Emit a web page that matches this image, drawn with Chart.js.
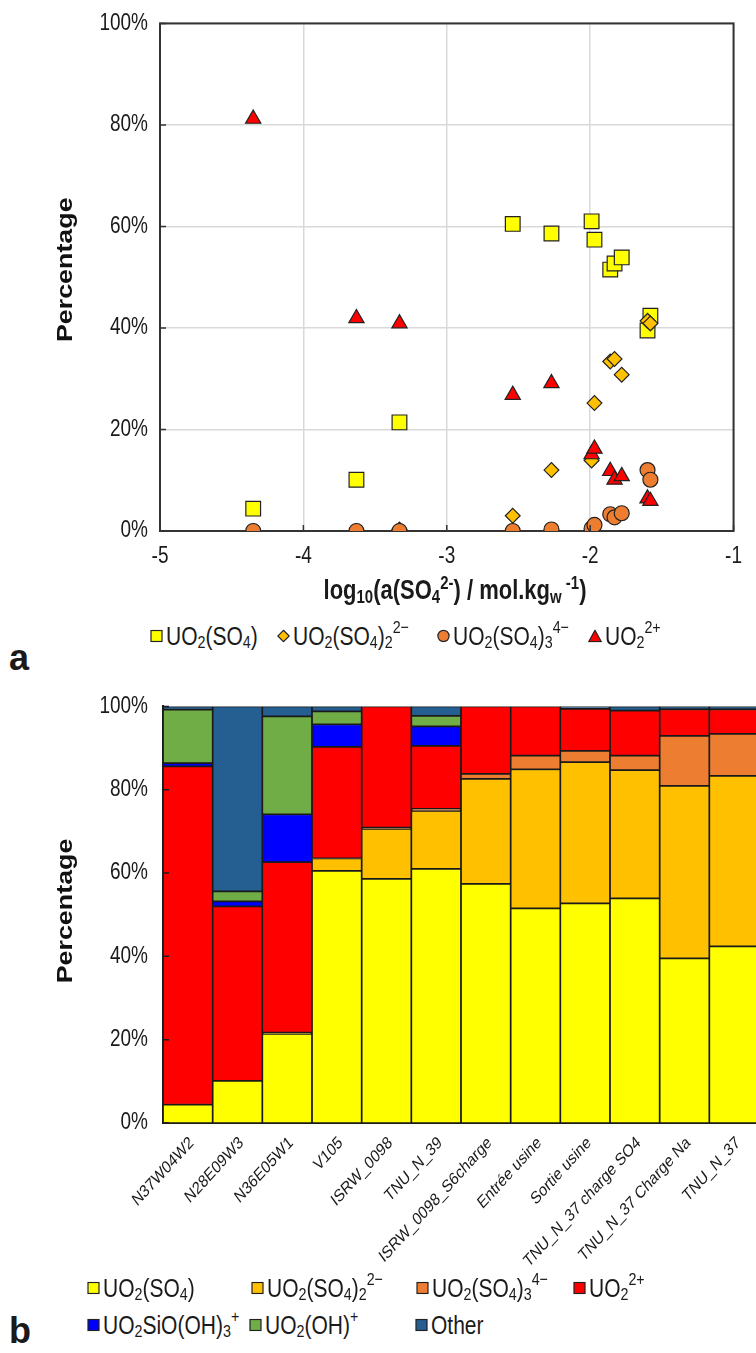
<!DOCTYPE html>
<html>
<head>
<meta charset="utf-8">
<script src="https://cdn.jsdelivr.net/npm/chart.js@4.4.1/dist/chart.umd.min.js"></script>
<style>
html,body{margin:0;padding:0;background:#fff;overflow:hidden;width:756px;height:1353px;}
body{position:relative;font-family:"Liberation Sans",Arial,sans-serif;color:#1a1a1a;}
canvas{position:absolute;left:0;}
#c1{top:0;}
#c2{top:680px;}
.item{position:absolute;display:flex;align-items:center;font-size:21px;line-height:1;white-space:nowrap;transform:translateY(-50%) scaleY(1.22);}
.item svg{margin-right:3px;flex:none;transform:scaleY(0.82);}
sub,sup{font-size:0.68em;line-height:0;position:relative;vertical-align:baseline;}
sub{top:0.3em;}
sup{top:-0.55em;}
#xt{position:absolute;left:0;width:910px;text-align:center;font-weight:bold;font-size:22px;line-height:22px;top:579px;transform:scaleY(1.22);}
.panel{position:absolute;left:9px;font-weight:bold;font-size:36px;line-height:36px;}
</style>
</head>
<body>
<canvas id="c1" width="756" height="620"></canvas>
<canvas id="c2" width="762" height="600"></canvas>

<div id="xt">log<sub>10</sub>(a(SO<sub>4</sub><sup>2-</sup>) / mol.kg<sub>w</sub><sup>&nbsp;-1</sup>)</div>

<!-- legend a -->
<div class="item" style="left:150px;top:636px"><svg width="13" height="13"><rect x="1" y="1" width="11" height="11" fill="#FFFF00" stroke="#222" stroke-width="1.2"/></svg>UO<sub>2</sub>(SO<sub>4</sub>)</div>
<div class="item" style="left:277px;top:636px"><svg width="13" height="13"><polygon points="6.5,0.8 12.2,6.5 6.5,12.2 0.8,6.5" fill="#FFC000" stroke="#222" stroke-width="1.2"/></svg>UO<sub>2</sub>(SO<sub>4</sub>)<sub>2</sub><sup>2−</sup></div>
<div class="item" style="left:437px;top:636px"><svg width="13" height="13"><circle cx="6.5" cy="6.5" r="5.6" fill="#ED7D31" stroke="#222" stroke-width="1.2"/></svg>UO<sub>2</sub>(SO<sub>4</sub>)<sub>3</sub><sup>4−</sup></div>
<div class="item" style="left:588px;top:636px"><svg width="14" height="13"><polygon points="7,0.8 13.3,12.2 0.7,12.2" fill="#FF0000" stroke="#222" stroke-width="1.2"/></svg>UO<sub>2</sub><sup>2+</sup></div>
<div class="panel" style="top:640px">a</div>

<!-- legend b -->
<div class="item" style="left:87px;top:1288px"><svg width="13" height="13"><rect x="1" y="1" width="11" height="11" fill="#FFFF00" stroke="#222" stroke-width="1.2"/></svg>UO<sub>2</sub>(SO<sub>4</sub>)</div>
<div class="item" style="left:251px;top:1288px"><svg width="13" height="13"><rect x="1" y="1" width="11" height="11" fill="#FFC000" stroke="#222" stroke-width="1.2"/></svg>UO<sub>2</sub>(SO<sub>4</sub>)<sub>2</sub><sup>2−</sup></div>
<div class="item" style="left:416px;top:1288px"><svg width="13" height="13"><rect x="1" y="1" width="11" height="11" fill="#ED7D31" stroke="#222" stroke-width="1.2"/></svg>UO<sub>2</sub>(SO<sub>4</sub>)<sub>3</sub><sup>4−</sup></div>
<div class="item" style="left:573px;top:1288px"><svg width="13" height="13"><rect x="1" y="1" width="11" height="11" fill="#FF0000" stroke="#222" stroke-width="1.2"/></svg>UO<sub>2</sub><sup>2+</sup></div>
<div class="item" style="left:87px;top:1325px"><svg width="13" height="13"><rect x="1" y="1" width="11" height="11" fill="#0000FF" stroke="#222" stroke-width="1.2"/></svg>UO<sub>2</sub>SiO(OH)<sub>3</sub><sup>+</sup></div>
<div class="item" style="left:249px;top:1325px"><svg width="13" height="13"><rect x="1" y="1" width="11" height="11" fill="#70AD47" stroke="#222" stroke-width="1.2"/></svg>UO<sub>2</sub>(OH)<sup>+</sup></div>
<div class="item" style="left:415px;top:1325px"><svg width="13" height="13"><rect x="1" y="1" width="11" height="11" fill="#255E91" stroke="#222" stroke-width="1.2"/></svg>Other</div>
<div class="panel" style="top:1313px">b</div>

<script>
// ---- data ----
const samples = ["N37W04W2","N28E09W3","N36E05W1","V105","ISRW_0098","TNU_N_39","ISRW_0098_S6charge","Entrée usine","Sortie usine","TNU_N_37 charge SO4","TNU_N_37 Charge Na","TNU_N_37"];
const logSO4      = [-4.35,-3.63,-3.33,-2.54,-2.27,-1.99,-1.97,-1.86,-1.83,-1.78,-1.60,-1.58];
const pctUO2SO4   = [4.4,10.1,21.4,60.5,58.6,61.0,57.4,51.5,52.7,53.9,39.5,42.4];
const pctUO2SO4_2 = [0,0,0.3,3.0,12.0,13.9,25.2,33.4,33.9,30.8,41.4,40.9];
const pctUO2SO4_3 = [0,0,0,0,0.3,0.5,1.2,3.3,2.7,3.5,12.0,10.1];
const pctUO2      = [81.2,41.9,40.9,26.8,29.1,15.1,16.2,11.8,10.1,10.8,6.4,5.9];
const pctUO2SiOH  = [0.8,1.2,11.5,5.4,0,4.7,0,0,0,0,0,0];
const pctUO2OH    = [12.8,2.4,23.5,3.1,0,2.5,0,0,0,0,0,0];
const pctOther    = [0.8,44.4,2.4,1.2,0,2.3,0,0,0.6,1.0,0.7,0.7];
const xTicks = {min:-5, max:-1, step:1};
const yTicks = {min:0, max:100, step:20};

const FONT = "'Liberation Sans', Arial, sans-serif";
Chart.defaults.font.family = FONT;
Chart.defaults.color = '#1a1a1a';

// draw all chart text slightly taller (narrow, tall lettering of the original figure)
function tallText(ctx, k) {
  const orig = ctx.fillText;
  ctx.fillText = function (t, x, y, mw) {
    const m = this.getTransform();
    const p = m.transformPoint(new DOMPoint(x, y));
    const s = new DOMMatrix().translate(p.x, p.y).scale(1, k).translate(-p.x, -p.y);
    this.setTransform(s.multiply(m));
    if (mw === undefined) orig.call(this, t, x, y); else orig.call(this, t, x, y, mw);
    this.setTransform(m);
  };
  return ctx;
}

const framePlugin = {
  id: 'frame',
  beforeDatasetsDraw(chart, args, o) {
    if (!o.box) return;
    const {ctx, chartArea: a} = chart;
    ctx.save();
    ctx.strokeStyle = o.color; ctx.lineWidth = o.width;
    ctx.strokeRect(a.left, a.top, a.right - a.left, a.bottom - a.top);
    ctx.restore();
  },
  afterDatasetsDraw(chart, args, o) {
    const {ctx, chartArea: a, scales} = chart;
    ctx.save();
    ctx.strokeStyle = o.color; ctx.lineWidth = 1.5;
    ctx.beginPath();
    scales.y.ticks.forEach(t => {
      const p = scales.y.getPixelForValue(t.value);
      ctx.moveTo(a.left, p); ctx.lineTo(a.left + o.len, p);
    });
    if (o.xTicks) {
      scales.x.ticks.forEach(t => {
        const p = scales.x.getPixelForValue(t.value);
        ctx.moveTo(p, a.bottom); ctx.lineTo(p, a.bottom - o.len);
      });
    }
    ctx.stroke();
    ctx.restore();
  }
};

const pts = arr => logSO4.map((x, i) => ({x: x, y: arr[i]}));
const tickFont = {family: FONT, size: 19};
const titleFont = {family: FONT, size: 22, weight: 'bold'};

new Chart(tallText(document.getElementById('c1').getContext('2d'), 1.22), {
  type: 'scatter',
  data: {
    datasets: [
      {label: 'UO2(SO4)', data: pts(pctUO2SO4), pointStyle: 'rect', pointRadius: 10.4, backgroundColor: '#FFFF00', borderColor: '#222', borderWidth: 1.2, order: 3},
      {label: 'UO2(SO4)2 2-', data: pts(pctUO2SO4_2), pointStyle: 'rectRot', pointRadius: 7.4, backgroundColor: '#FFC000', borderColor: '#222', borderWidth: 1.2, order: 2},
      {label: 'UO2(SO4)3 4-', data: pts(pctUO2SO4_3), pointStyle: 'circle', pointRadius: 7.5, backgroundColor: '#ED7D31', borderColor: '#222', borderWidth: 1.2, order: 1},
      {label: 'UO2 2+', data: pts(pctUO2), pointStyle: 'triangle', pointRadius: 8.8, backgroundColor: '#FF0000', borderColor: '#222', borderWidth: 1.2, order: 0}
    ]
  },
  options: {
    responsive: false, animation: false,
    layout: {padding: {top: 20, right: 7, left: 0, bottom: 0}},
    plugins: {legend: {display: false}, tooltip: {enabled: false},
      frame: {box: true, color: '#333', width: 2, len: 6, xTicks: true}},
    scales: {
      x: {type: 'linear', min: xTicks.min, max: xTicks.max,
        ticks: {stepSize: xTicks.step, font: tickFont, color: '#1a1a1a', padding: 14},
        grid: {color: '#d9d9d9', lineWidth: 1.5, drawTicks: false},
        border: {display: false},
        afterFit(s) { s.height = 89; }},
      y: {type: 'linear', min: yTicks.min, max: yTicks.max,
        ticks: {stepSize: yTicks.step, font: tickFont, color: '#1a1a1a', padding: 12, callback: v => v + '%'},
        grid: {color: '#d9d9d9', lineWidth: 1.5, drawTicks: false},
        border: {display: false},
        title: {display: true, text: '  Percentage', font: titleFont, color: '#111', padding: {top: 53, bottom: 0}},
        afterFit(s) { s.width = 160; }}
    }
  },
  plugins: [framePlugin]
});

const barSeries = [
  ['UO2(SO4)', pctUO2SO4, '#FFFF00'],
  ['UO2(SO4)2 2-', pctUO2SO4_2, '#FFC000'],
  ['UO2(SO4)3 4-', pctUO2SO4_3, '#ED7D31'],
  ['UO2 2+', pctUO2, '#FF0000'],
  ['UO2SiO(OH)3+', pctUO2SiOH, '#0000FF'],
  ['UO2(OH)+', pctUO2OH, '#70AD47'],
  ['Other', pctOther, '#255E91']
];

new Chart(tallText(document.getElementById('c2').getContext('2d'), 1.22), {
  type: 'bar',
  data: {
    labels: samples,
    datasets: barSeries.map(([label, data, color]) => ({
      label: label, data: data, backgroundColor: color,
      borderColor: '#1a1a1a', borderWidth: 1.2, borderSkipped: false,
      barPercentage: 1, categoryPercentage: 1
    }))
  },
  options: {
    responsive: false, animation: false,
    layout: {padding: {top: 18, right: 3, left: 0, bottom: 0}},
    plugins: {legend: {display: false}, tooltip: {enabled: false},
      frame: {box: false, color: '#1a1a1a', len: 6, xTicks: false}},
    scales: {
      x: {stacked: true,
        ticks: {autoSkip: false, maxRotation: 42, minRotation: 42, font: {family: FONT, size: 14.3}, color: '#1a1a1a', padding: 11, labelOffset: 4},
        grid: {display: false, drawTicks: false},
        border: {display: true, color: '#1a1a1a', width: 2},
        afterFit(s) { s.height = 157; }},
      y: {stacked: true, min: yTicks.min, max: yTicks.max,
        ticks: {stepSize: yTicks.step, font: tickFont, color: '#1a1a1a', padding: 15, callback: v => v + '%'},
        grid: {display: false, drawTicks: false},
        border: {display: true, color: '#1a1a1a', width: 2},
        title: {display: true, text: ' Percentage', font: titleFont, color: '#111', padding: {top: 53, bottom: 0}},
        afterFit(s) { s.width = 163; }}
    }
  },
  plugins: [framePlugin]
});
</script>
</body>
</html>
